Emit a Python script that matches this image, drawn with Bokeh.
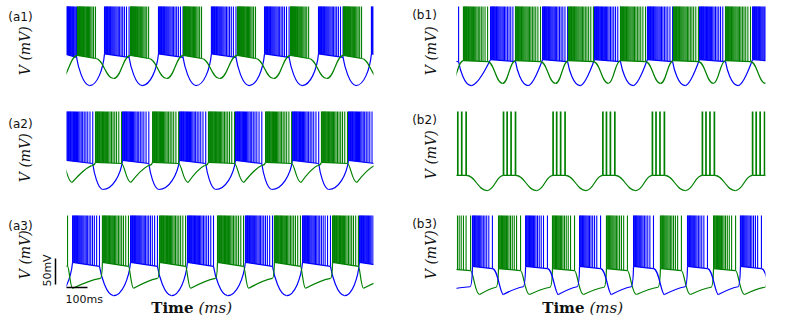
import math
from bokeh.plotting import figure
from bokeh.models import Range1d, Label, BoxAnnotation
from bokeh.layouts import column, row
from bokeh.embed import file_html
from bokeh.resources import INLINE

# ---------------- data: times in ms, voltages in mV ----------------
SPIKE_PEAK = 40

# (a1)
a1_blue_on = [-10, 181, 438, 690, 943, 1200, 1452]
a1_blue_off = [48, 298, 555, 807, 1060, 1317, 1569]
a1_blue_lv = dict(plat_on=-51, plat_off=-58, trough=-112, delay=62)
a1_green_on = [-200, 52, 305, 557, 814, 1067, 1319, 1572]
a1_green_off = [-114, 138, 391, 643, 900, 1153, 1405, 1658]
a1_green_lv = dict(plat_on=-54, plat_off=-60, trough=-98.5, delay=86)

# (a2)
a2_blue_on = [0, 267, 538, 805, 1076, 1343]
a2_blue_off = [125, 392, 663, 930, 1201, 1468]
a2_blue_lv = dict(plat_on=-54, plat_off=-60, trough=-110, delay=48)
a2_green_on = [-142, 138, 410, 676, 948, 1214, 1486]
a2_green_off = [-18, 262, 534, 800, 1072, 1338, 1610]
a2_green_lv = dict(plat_on=-58, plat_off=-60, trough=-96.5, delay=45, ramp_end=-64, lead=19)

# (a3)
a3_blue_on = [-247, 29, 305, 576, 852, 1124, 1395]
a3_blue_off = [-119, 157, 433, 700, 981, 1257, 1523]
a3_blue_lv = dict(plat_on=-50, plat_off=-58, trough=-114, delay=67)
a3_green_on = [-119, 171, 443, 719, 990, 1267, 1543]
a3_green_off = [5, 295, 567, 843, 1114, 1390, 1667]
a3_green_lv = dict(plat_on=-50, plat_off=-58, trough=-100, delay=25, ramp_end=-81, lead=10)

# (b1)
b1_blue_on = [-110, 162, 410, 657, 909, 1157, 1410]
b1_blue_off = [10, 281, 529, 781, 1029, 1281, 1530]
b1_blue_lv = dict(plat_on=-62, plat_off=-66, trough=-112, delay=60)
b1_green_on = [-215, 33, 281, 533, 781, 1033, 1281, 1533]
b1_green_off = [-100, 148, 400, 652, 900, 1152, 1400, 1648]
b1_green_lv = dict(plat_on=-64, plat_off=-66, trough=-108, delay=71)

# (b2)
b2_green_on = [-11, 224, 460, 697, 933, 1171, 1410]
b2_green_off = [46, 281, 517, 754, 990, 1228, 1467]
b2_green_lv = dict(plat_on=-83, plat_off=-83, trough=-112, delay=100)

# (b3)
b3_blue_on = [-300, 76, 329, 586, 843, 1100, 1352, 1610]
b3_blue_off = [-210, 171, 433, 686, 938, 1195, 1452, 1705]
b3_blue_lv = dict(plat_on=-58, plat_off=-62, trough=-112, delay=52, ramp_end=-97, lead=12)
b3_green_on = [-52, 200, 457, 714, 971, 1224, 1481]
b3_green_off = [67, 305, 562, 814, 1071, 1329, 1586]
b3_green_lv = dict(plat_on=-62, plat_off=-66, trough=-112, delay=43, ramp_end=-98, lead=12)

# spike positions inside a burst, as fraction of burst duration
DENSE = [0.0, 0.025, 0.05, 0.075, 0.10, 0.125, 0.15, 0.18, 0.21, 0.24, 0.27, 0.305,
         0.34, 0.38, 0.42, 0.465, 0.51, 0.56, 0.615, 0.675, 0.74, 0.81, 0.895, 1.0]
MEDIUM = [0.0, 0.035, 0.07, 0.105, 0.14, 0.18, 0.22, 0.265, 0.31, 0.36, 0.415,
          0.475, 0.545, 0.625, 0.715, 0.82, 1.0]
FEW = [0.0, 0.30, 0.63, 1.0]

SCALE_MS = 100
SCALE_MV = 50

# ---------------- styles / layout ----------------
BLUE = "#0000ff"
GREEN = "#008000"
TXT = "#111111"
SHAPES = {
    "u": dict(desc=(0.1, 0.3, 0.5, 1.0), asc=(0.5, 0.0, 0.9, 0.5)),
    "u2": dict(desc=(0.1, 0.3, 0.45, 1.0), asc=(0.35, 0.0, 0.8, 0.7)),
    "s": dict(desc=(0.45, 0.0, 0.55, 1.0), asc=(0.45, 0.0, 0.55, 1.0)),
    "ramp": dict(desc=(0.3, 0.0, 0.5, 1.0), asc=(0.3, 0.4, 0.7, 0.85)),
    "ramp_late": dict(desc=(0.5, 0.0, 0.7, 1.0), asc=(0.3, 0.4, 0.7, 0.85)),
}

MS_PER_PX = 100 / 21.0
MV_PER_PX = 50 / 26.0
# page pixel geometry (figure edges, where the traces start and end)
COLS = [dict(left=0, w=398, trace_left=66, trace_right=373),
        dict(left=398, w=389, trace_left=456, trace_right=765)]
ROWS = [dict(top=0, h=105, peak=6),
        dict(top=105, h=97, peak=111),
        dict(top=202, h=119, peak=215)]


def make_fig(ci, ri):
    c, r = COLS[ci], ROWS[ri]

    def px(x):
        return (x - c["trace_left"]) * MS_PER_PX

    def py(y):
        return SPIKE_PEAK - (y - r["peak"]) * MV_PER_PX
    xr = Range1d(px(c["left"]), px(c["left"] + c["w"]))
    yr = Range1d(py(r["top"] + r["h"]), py(r["top"]))
    p = figure(width=c["w"], height=r["h"], x_range=xr, y_range=yr,
               toolbar_location=None, output_backend="svg",
               x_axis_location=None, y_axis_location=None,
               min_border_left=0, min_border_right=0, min_border_top=0, min_border_bottom=0)
    p.outline_line_color = None
    p.xgrid.visible = False
    p.ygrid.visible = False
    p.background_fill_color = "white"
    p.border_fill_color = "white"
    t_end = px(c["trace_right"])
    # white masks that hide the slow waves outside their time window
    p.add_layout(BoxAnnotation(left=xr.start - 50, right=0, bottom=yr.start - 50, top=yr.end + 50,
                               fill_color="white", fill_alpha=1.0, line_alpha=0.0))
    p.add_layout(BoxAnnotation(left=t_end, right=xr.end + 50,
                               bottom=yr.start - 50, top=yr.end + 50,
                               fill_color="white", fill_alpha=1.0, line_alpha=0.0))
    p.tags = [t_end]
    return p, px, py


def draw_trace(p, on, off, lv, shape, pattern, color, spike_w=1.1):
    t_end = p.tags[0]
    n = len(on)
    P0, P1, T, d = lv["plat_on"], lv["plat_off"], lv["trough"], lv["delay"]
    sx, sy = [], []
    for s, e in zip(on, off):
        for f in pattern:
            t = s + f * (e - s)
            if 0 <= t <= t_end:
                sx.append(t)
                sy.append(P0 + f * (P1 - P0))
    p.segment(x0=sx, y0=sy, x1=sx, y1=[SPIKE_PEAK] * len(sx), line_color=color, line_width=spike_w)
    bo = [(s, e) for s, e in zip(on, off) if e > 0 and s < t_end]
    p.segment(x0=[s for s, e in bo], y0=[P0] * len(bo), x1=[e for s, e in bo], y1=[P1] * len(bo),
              line_color=color, line_width=1.2)
    B = {k: [] for k in ["x0", "y0", "x1", "y1", "cx0", "cy0", "cx1", "cy1"]}

    def add(*vals):
        for k, v in zip(B.keys(), vals):
            B[k].append(v)
    a0, b0, a1, b1 = SHAPES[shape]["desc"]
    u0, w0, u1, w1 = SHAPES[shape]["asc"]
    for i in range(n):
        e = off[i]
        tt = e + d
        add(e, P1, tt, T, e + a0 * d, P1 + b0 * (T - P1), e + a1 * d, P1 + b1 * (T - P1))
        if i + 1 < n:
            nxt = on[i + 1]
            if "ramp_end" in lv:
                R, lead = lv["ramp_end"], lv["lead"]
                re = nxt - lead
                L = re - tt
                add(tt, T, re, R, tt + u0 * L, T + w0 * (R - T), tt + u1 * L, T + w1 * (R - T))
                add(re, R, nxt, P0, re + 0.6 * lead, R, nxt - 0.1 * lead, P0 - 0.5 * (P0 - R))
            else:
                L = nxt - tt
                add(tt, T, nxt, P0, tt + u0 * L, T + w0 * (P0 - T), tt + u1 * L, T + w1 * (P0 - T))
    p.bezier(line_color=color, line_width=1.2, **B)


def label(p, x, y, text, font="DejaVu Sans", size="11.5px", style="normal", align="center",
          angle=0.0):
    p.add_layout(Label(x=x, y=y, text=text, text_font=font, text_font_size=size,
                       text_font_style=style, text_align=align, text_baseline="middle",
                       angle=angle, text_color=TXT, level="overlay"))


def add_labels(p, px, py, tag, tag_xy, v_xy):
    label(p, px(tag_xy[0]), py(tag_xy[1]), tag, size="12px")
    label(p, px(v_xy[0]), py(v_xy[1]), "V  (mV)", font="DejaVu Serif", size="14px",
          style="italic", angle=math.pi / 2)


def add_time_label(p, px, py, cx, cy):
    label(p, px(cx + 2), py(cy), "Time", font="DejaVu Serif", size="15px", style="bold", align="right")
    label(p, px(cx + 7), py(cy), "(ms)", font="DejaVu Serif", size="15px", style="italic", align="left")


# (a1)
pa1, x_, y_ = make_fig(0, 0)
draw_trace(pa1, a1_blue_on, a1_blue_off, a1_blue_lv, "u", DENSE, BLUE)
draw_trace(pa1, a1_green_on, a1_green_off, a1_green_lv, "s", DENSE, GREEN)
add_labels(pa1, x_, y_, "(a1)", (20, 16), (24, 48))

# (a2)
pa2, x_, y_ = make_fig(0, 1)
draw_trace(pa2, a2_blue_on, a2_blue_off, a2_blue_lv, "u", DENSE, BLUE)
draw_trace(pa2, a2_green_on, a2_green_off, a2_green_lv, "ramp", DENSE, GREEN)
add_labels(pa2, x_, y_, "(a2)", (20, 123), (24, 155))

# (a3) with scale bar
pa3, x_, y_ = make_fig(0, 2)
draw_trace(pa3, a3_blue_on, a3_blue_off, a3_blue_lv, "u", DENSE, BLUE)
draw_trace(pa3, a3_green_on, a3_green_off, a3_green_lv, "ramp", DENSE, GREEN)
bar_y = y_(287)
bar_x = x_(55)
bar_top = y_(258)
pa3.segment(x0=[0, bar_x], y0=[bar_y, bar_top - SCALE_MV], x1=[SCALE_MS, bar_x], y1=[bar_y, bar_top],
            line_color="black", line_width=1.5, level="overlay")
label(pa3, x_(47), y_(270), "50mV", size="11px", angle=math.pi / 2)
label(pa3, x_(65), y_(299), "100ms", size="11px", align="left")
add_labels(pa3, x_, y_, "(a3)", (20, 225), (24, 252))
add_time_label(pa3, x_, y_, 191, 307)

# (b1)
pb1, x_, y_ = make_fig(1, 0)
draw_trace(pb1, b1_blue_on, b1_blue_off, b1_blue_lv, "u2", DENSE, BLUE)
draw_trace(pb1, b1_green_on, b1_green_off, b1_green_lv, "s", DENSE, GREEN)
add_labels(pb1, x_, y_, "(b1)", (424, 14), (430, 48))

# (b2)
pb2, x_, y_ = make_fig(1, 1)
draw_trace(pb2, b2_green_on, b2_green_off, b2_green_lv, "s", FEW, GREEN, spike_w=1.7)
add_labels(pb2, x_, y_, "(b2)", (424, 119), (430, 152))

# (b3)
pb3, x_, y_ = make_fig(1, 2)
draw_trace(pb3, b3_green_on, b3_green_off, b3_green_lv, "ramp", MEDIUM, GREEN)
draw_trace(pb3, b3_blue_on, b3_blue_off, b3_blue_lv, "ramp_late", MEDIUM, BLUE)
add_labels(pb3, x_, y_, "(b3)", (424, 223), (430, 252))
add_time_label(pb3, x_, y_, 582, 307)

layout = column(row(pa1, pb1), row(pa2, pb2), row(pa3, pb3))
open("out.html", "w").write(file_html(layout, INLINE))
